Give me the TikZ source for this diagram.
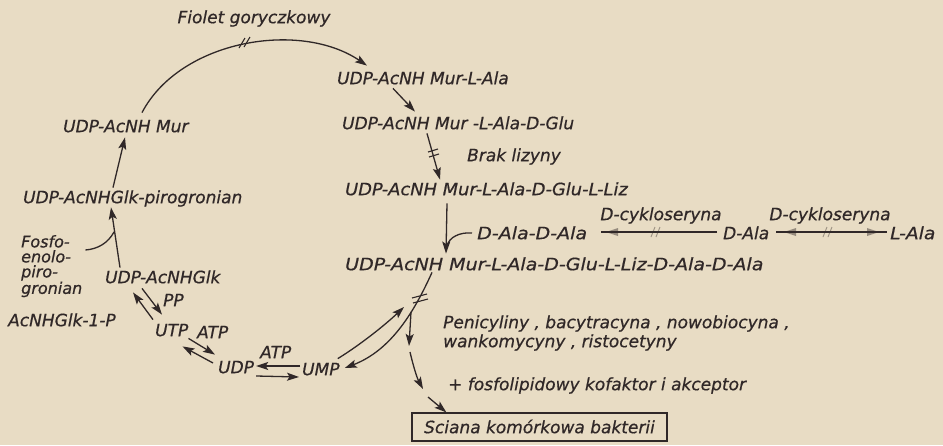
\documentclass[tikz,border=0pt]{standalone}
\usepackage{fontspec}
\usepackage{graphicx}
\setmainfont{DejaVu Sans}[ItalicFeatures={FakeBold=0.6}]
\usetikzlibrary{arrows.meta,calc}
\definecolor{paper}{RGB}{232,220,196}
\definecolor{ink}{RGB}{48,40,40}
\begin{document}
\begin{tikzpicture}[x=1pt,y=-1pt,
  txt/.style={font=\fontsize{17}{19}\selectfont\itshape, text=ink, inner sep=0pt, anchor=west, text height=12.4pt, text depth=0pt},
  smalltxt/.style={font=\fontsize{16}{15}\selectfont\itshape, text=ink, inner sep=0pt, align=left},
  arr/.style={draw=ink, line width=1.3pt, -{Stealth[length=12pt,width=8pt,inset=2.5pt]}},
  ln/.style={draw=ink, line width=1.3pt},
  hatch/.style={draw=ink, line width=1.1pt},
  faint/.style={draw=ink, draw opacity=0.4, line width=1pt},
  faintfill/.style={fill=ink, fill opacity=0.45},
]
\fill[paper] (0,0) rectangle (943,445);
\useasboundingbox (0,0) rectangle (943,445);

% ---------- texts ----------
\node[txt, anchor=center] (fiolet) at (254,17) {Fiolet goryczkowy};
\node[txt] (mur) at (63,126) {UDP-AcNH Mur};
\node[txt] (mur1) at (337,78) {UDP-AcNH Mur-L-Ala};
\node[txt] (mur2) at (342,123) {UDP-AcNH Mur -L-Ala-D-Glu};
\node[txt] (brak) at (467,155) {Brak lizyny};
\node[txt] (mur3) at (345,189) {\scalebox{1.05}[1]{UDP-AcNH Mur-L-Ala-D-Glu-L-Liz}};
\node[txt] (dada) at (477,233) {\scalebox{1.12}[1]{D-Ala-D-Ala}};
\node[txt, anchor=center] (cyk1) at (661,214) {D-cykloseryna};
\node[txt] (dala) at (723,233) {D-Ala};
\node[txt, anchor=center] (cyk2) at (830,214) {D-cykloseryna};
\node[txt] (lala) at (890,233) {\scalebox{1.1}[1]{L-Ala}};
\node[txt] (mur4) at (345,264) {\scalebox{1.12}[1]{UDP-AcNH Mur-L-Ala-D-Glu-L-Liz-D-Ala-D-Ala}};
\node[txt] (pen) at (443,322) {Penicyliny , bacytracyna , nowobiocyna ,};
\node[txt] (wank) at (443,341) {wankomycyny , ristocetyny};
\node[txt] (fosfo) at (448,384) {+ fosfolipidowy kofaktor i akceptor};
\node[txt, anchor=center, draw=ink, line width=1.2pt, minimum width=255pt, minimum height=28pt] (box) at (539.5,427) {Sciana komórkowa bakterii};

\node[txt] (glkpir) at (23,197) {UDP-AcNHGlk-pirogronian};
\node[smalltxt, anchor=north west] (pep) at (21,235) {Fosfo-\\enolo-\\piro-\\gronian};
\node[txt] (glk) at (105,277) {UDP-AcNHGlk};
\node[txt] (glk1p) at (8,320) {AcNHGlk-1-P};
\node[txt] (pp) at (163,300) {PP};
\node[txt] (utp) at (155,330) {UTP};
\node[txt] (atp1) at (197,332) {ATP};
\node[txt] (udp) at (218,367) {UDP};
\node[txt] (atp2) at (260,352) {ATP};
\node[txt] (ump) at (302,369) {UMP};

% ---------- free ends ----------
\coordinate (upend) at (404,307);
\coordinate (br) at (411,312);
\coordinate (c1) at (409,346);
\coordinate (c2) at (410,352);
\coordinate (c3) at (423,389);
\coordinate (c4) at (428,397);
\coordinate (merge) at (114,232);
\coordinate (join) at (447,246);

% ---------- upper cycle ----------
\draw[arr] ($(glkpir.north west)+(90,-3)$) -- ($(mur.south west)+(62,5)$);
\draw[arr] ($(mur.north west)+(79,-7)$) .. controls (180,40) and (300,20) .. ($(mur1.north west)+(30,-6)$);
\draw[hatch] (239,48) -- (245,38);
\draw[hatch] (244,47) -- (250,37);

\draw[arr] ($(mur1.south west)+(56,4)$) -- ($(mur2.north west)+(73,-5)$);
\draw[arr] ($(mur2.south west)+(85,4)$) -- ($(mur3.north west)+(95,-3)$);
\draw[hatch] (428,152) -- (438,149);
\draw[hatch] (429,157) -- (439,154);

\draw[arr] ($(mur3.south west)+(102,8)$) -- ($(mur4.north west)+(101,-4)$);
\draw[ln] ($(dada.west)+(-5,0)$) .. controls (460,232) and (449,237) .. (join);

% ---------- D-Ala row ----------
\draw[ln] ($(dala.west)+(-6,-1)$) -- ($(dada.east)+(14,-1)$);
\fill[faintfill] (606,232) -- (618,228) -- (618,236) -- cycle;
\draw[faint] (651,237) -- (655,227);
\draw[faint] (656,237) -- (660,227);
\draw[ln] ($(dala.east)+(7,-1)$) -- ($(lala.west)+(-3,-1)$);
\fill[faintfill] (784,232) -- (796,228) -- (796,236) -- cycle;
\fill[faintfill] (879,232) -- (867,228) -- (867,236) -- cycle;
\draw[faint] (823,237) -- (827,227);
\draw[faint] (828,237) -- (832,227);

% ---------- descending branch ----------
\draw[arr] ($(mur4.south west)+(87,2)$) .. controls (415,310) and (392,350) .. ($(ump.east)+(5,-1)$);
\draw[hatch] (412,298) -- (427,294);
\draw[hatch] (413,303) -- (428,299);
\draw[arr] ($(ump.north east)+(-2,-4)$) .. controls (360,345) and (385,325) .. (upend);
\draw[arr] (br) -- (c1);
\draw[arr] (c2) .. controls (413,365) and (417,378) .. (c3);
\draw[arr] (c4) -- ($(box.north west)+(35,0)$);

% ---------- lower-left ----------
\draw[arr] ($(glk.north west)+(15,-3)$) -- ($(glkpir.south west)+(88,4)$);
\draw[ln] ($(pep.north east)+(3,15)$) .. controls (98,249) and (108,243) .. (merge);

\draw[arr] ($(glk.south west)+(37,5)$) -- ($(utp.north west)+(7,-9)$);
\draw[arr] ($(utp.north west)+(-2,-4)$) -- ($(glk.south west)+(28,9)$);
\draw[arr] ($(utp.south east)+(0,2)$) -- ($(udp.north west)+(-3,-6)$);
\draw[arr] ($(udp.west)+(-5,-4)$) -- ($(utp.south east)+(-6,10)$);
\draw[arr] ($(ump.west)+(-2,-3)$) -- ($(udp.east)+(2,-1)$);
\draw[arr] ($(udp.east)+(2,9)$) -- ($(ump.west)+(-3,8)$);
\end{tikzpicture}
\end{document}
